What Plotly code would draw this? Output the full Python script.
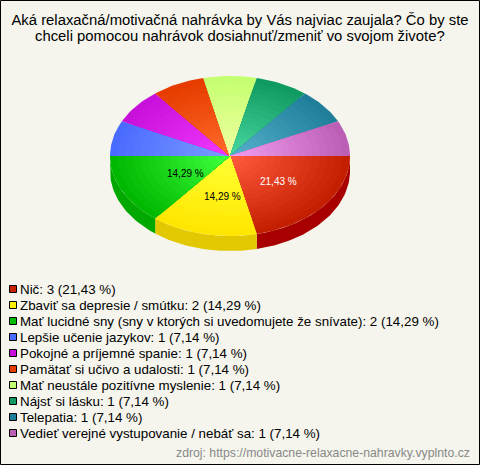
import math
import plotly.graph_objects as go

categories = [
    "Nič",
    "Zbaviť sa depresie / smútku",
    "Mať lucidné sny (sny v ktorých si uvedomujete že snívate)",
    "Lepšie učenie jazykov",
    "Pokojné a príjemné spanie",
    "Pamätať si učivo a udalosti",
    "Mať neustále pozitívne myslenie",
    "Nájsť si lásku",
    "Telepatia",
    "Vedieť verejné vystupovanie / nebáť sa",
]
counts = [3, 2, 2, 1, 1, 1, 1, 1, 1, 1]
outer_colors = ["#c41f00", "#ffe600", "#00b800", "#4a6bff", "#c710d9", "#e63c00",
                "#c4ff70", "#0f9a60", "#1f7f9a", "#bb5fb5"]
inner_colors = ["#ff5a3c", "#ffff33", "#3dff3d", "#7a9cff", "#f038ff", "#ff6a2a",
                "#f0ffa0", "#48d6a0", "#55b0cc", "#f09cf0"]
side_colors = ["#a80000", "#e2c800", "#00a800", "#3050d0", "#a000b0", "#c03000",
               "#a0d050", "#007a48", "#106078", "#904890"]
legend_colors = ["#c92200", "#ffee00", "#00bb00", "#4a6bff", "#c710d9", "#e63c00",
                 "#c4ff70", "#0f9a60", "#1f7f9a", "#bb5fb5"]
title_lines = ["Aká relaxačná/motivačná nahrávka by Vás najviac zaujala? Čo by ste",
               "chceli pomocou nahrávok dosiahnuť/zmeniť vo svojom živote?"]
source = "zdroj: https://motivacne-relaxacne-nahravky.vyplnto.cz"

W, H = 480, 465
BG = "#f5f5ed"
CX, CY, RX, RY, DEPTH = 230, 156, 120, 80, 15
FONT = "Liberation Sans"
RINGS = 16


def hex2rgb(c):
    return [int(c[i:i + 2], 16) for i in (1, 3, 5)]


def mix(a, b, t):
    ca, cb = hex2rgb(a), hex2rgb(b)
    return "rgb(%d,%d,%d)" % tuple(round(x + (y - x) * t) for x, y in zip(ca, cb))


total = sum(counts)
fig = go.Figure()
spans = []
start = 0.0
for v in counts:
    end = start + v / total * 2 * math.pi
    spans.append((start, end))
    start = end

# side wall (only the front half is visible)
for (a0, a1), col in zip(spans, side_colors):
    b0, b1 = max(a0, 0), min(a1, math.pi)
    if b1 <= b0:
        continue
    n = max(2, int((b1 - b0) * 40))
    ts = [b0 + (b1 - b0) * i / n for i in range(n + 1)]
    xs = [CX + RX * math.cos(t) for t in ts]
    ys = [CY + RY * math.sin(t) for t in ts]
    xs += [CX + RX * math.cos(t) for t in reversed(ts)]
    ys += [CY + RY * math.sin(t) + DEPTH for t in reversed(ts)]
    fig.add_trace(go.Scatter(x=xs + xs[:1], y=ys + ys[:1], mode="lines", fill="toself",
                             fillcolor=col, line=dict(width=0), hoverinfo="skip",
                             showlegend=False))

# top face: each wedge shaded from rim to centre
for (a0, a1), c_out, c_in, name in zip(spans, outer_colors, inner_colors, categories):
    n = max(4, int((a1 - a0) * 40))
    ts = [a0 + (a1 - a0) * i / n for i in range(n + 1)]
    for k in range(RINGS):
        r = 1 - k / RINGS
        xs = [CX] + [CX + r * RX * math.cos(t) for t in ts] + [CX]
        ys = [CY] + [CY + r * RY * math.sin(t) for t in ts] + [CY]
        fig.add_trace(go.Scatter(x=xs, y=ys, mode="lines", fill="toself",
                                 fillcolor=mix(c_out, c_in, k / (RINGS - 1)),
                                 line=dict(width=0), name=name, hoverinfo="skip",
                                 showlegend=False))

annotations = []


def text(x, y, s, size=12, color="#000000", anchor="left"):
    annotations.append(dict(x=x, y=y, xref="x", yref="y", text=s, showarrow=False,
                            xanchor=anchor, yanchor="middle",
                            font=dict(family=FONT, size=size, color=color),
                            borderpad=0, borderwidth=0))


# slice percentage labels
for (a0, a1), v, in zip(spans, counts):
    pct = v / total * 100
    if pct < 10:
        continue
    m = (a0 + a1) / 2
    lx = CX + 55 * math.cos(m) + 5
    ly = CY + 43 * math.sin(m) - 1
    s = f"{pct:.2f} %".replace(".", ",")
    text(lx, ly, s, size=10, color="#ffffff" if pct > 20 else "#000000", anchor="center")

# legend
LEG_Y0, LEG_STEP = 289, 16
leg_y = [LEG_Y0 + i * LEG_STEP for i in range(len(categories))]
fig.add_trace(go.Scatter(x=[13] * len(categories), y=leg_y, mode="markers",
                         marker=dict(symbol="square", size=7, color=legend_colors,
                                     line=dict(color="#000000", width=1)),
                         hoverinfo="skip", showlegend=False))
for y, name, v in zip(leg_y, categories, counts):
    pct = f"{v / total * 100:.2f}".replace(".", ",")
    text(20, y, f"{name}: {v} ({pct} %)", size=13.35, color="#000000")

text(240, 36, title_lines[1], size=14.85, color="#000000", anchor="center")
text(470, 453, source, size=12.25, color="#888888", anchor="right")

fig.update_layout(
    width=W, height=H, autosize=False,
    margin=dict(l=0, r=0, t=0, b=0, pad=0),
    paper_bgcolor=BG, plot_bgcolor=BG,
    title=dict(text=title_lines[0], x=0.5, xanchor="center", y=1 - 20 / H, yanchor="middle",
               yref="container", font=dict(family=FONT, size=14.85, color="#000000")),
    xaxis=dict(range=[0, W], visible=False, fixedrange=True),
    yaxis=dict(range=[H, 0], visible=False, fixedrange=True),
    annotations=annotations,
    showlegend=False,
    shapes=[dict(type="rect", xref="x", yref="y", x0=0.5, y0=0.5, x1=W - 0.5, y1=H - 0.5,
                 line=dict(color="#000000", width=1), fillcolor="rgba(0,0,0,0)")],
)
fig.write_html("out.html", config=dict(displayModeBar=False),
               post_script="document.body.style.margin='0';")
